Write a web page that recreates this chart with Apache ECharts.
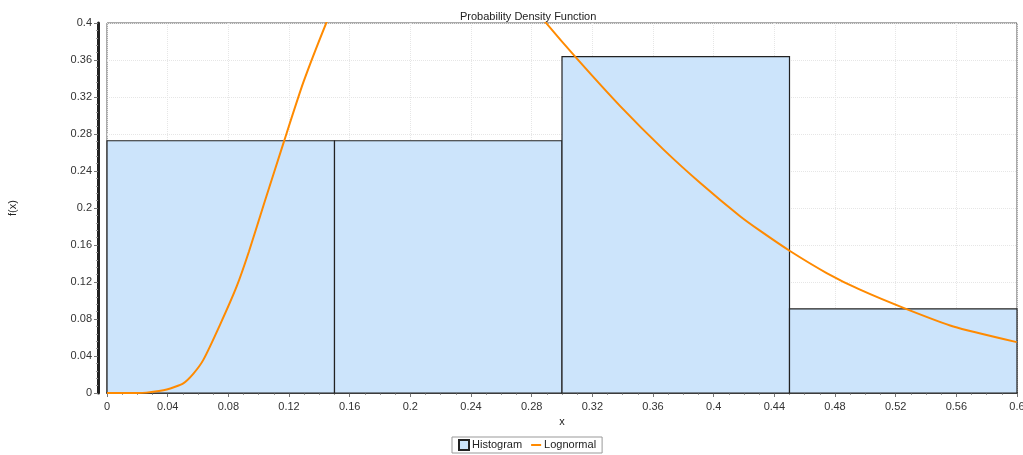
<!DOCTYPE html>
<html>
<head>
<meta charset="utf-8">
<script src="https://cdn.jsdelivr.net/npm/echarts@6/dist/echarts.min.js"></script>
<style>html,body{margin:0;padding:0;background:#fff}#c{width:1023px;height:455px}</style>
</head>
<body>
<div id="c"></div>
<script>
// Histogram bins
var binStart = [0.0, 0.15, 0.30, 0.45];
var binEnd   = [0.15, 0.30, 0.45, 0.60];
var binDensity = [0.2727, 0.2727, 0.3636, 0.0909];

// Lognormal curve (middle part above 0.4 is off-chart estimate)
var curveX = [0.0, 0.02, 0.026, 0.0394, 0.0503, 0.057, 0.0635, 0.0745, 0.0855, 0.0936, 0.104, 0.1167, 0.1295, 0.1448,
              0.16, 0.18, 0.2, 0.22, 0.24, 0.26, 0.28,
              0.2888, 0.3097, 0.3382, 0.3668, 0.391, 0.4174, 0.4305, 0.4503, 0.4745, 0.4965, 0.5272, 0.558, 0.5998];
var curveY = [0.0, 0.0, 0.0004, 0.0038, 0.0105, 0.021, 0.0358, 0.0737, 0.1152, 0.153, 0.207, 0.272, 0.336, 0.401,
              0.46, 0.50, 0.52, 0.52, 0.50, 0.465, 0.42,
              0.4014, 0.3617, 0.3104, 0.2634, 0.2273, 0.1911, 0.1755, 0.1535, 0.1297, 0.1117, 0.0907, 0.0719, 0.055];

var seriesNames = ['Histogram', 'Lognormal'];
var titleText = 'Probability Density Function';

var histData = binStart.map(function (s, i) { return [s, binEnd[i], binDensity[i]]; });
var lineData = curveX.map(function (x, i) { return [x, curveY[i]]; });

var font = 'Liberation Sans, Arial, sans-serif';
var chart = echarts.init(document.getElementById('c'), null, {renderer: 'canvas'});
chart.setOption({
  animation: false,
  backgroundColor: '#fff',
  title: {
    text: titleText, left: 455, top: 6,
    textStyle: {fontFamily: font, fontSize: 11, fontWeight: 'normal', color: '#222'}
  },
  legend: {
    left: 452, top: 437,
    data: [
      {name: seriesNames[0], icon: 'rect'},
      {name: seriesNames[1], icon: 'line',
       itemStyle: {color: '#ff8a00', borderColor: '#ff8a00', borderWidth: 2}}
    ],
    itemWidth: 10, itemHeight: 10, itemGap: 8,
    padding: [2, 6, 2, 6],
    borderColor: '#999', borderWidth: 1, borderRadius: 0,
    textStyle: {fontFamily: font, fontSize: 11, color: '#222', padding: [0, 0, 0, -2]}
  },
  grid: {
    left: 107, right: 6, top: 23, bottom: 62,
    outerBoundsMode: 'none', containLabel: false,
    show: true, borderColor: '#555', borderWidth: 1, backgroundColor: 'transparent'
  },
  xAxis: {
    type: 'value', min: 0, max: 0.6, interval: 0.04,
    name: 'x', nameLocation: 'middle', nameGap: 22,
    nameTextStyle: {fontFamily: font, fontSize: 11, color: '#222'},
    axisLine: {show: true, onZero: false, lineStyle: {color: '#555', width: 2}},
    axisTick: {show: true, length: 4, lineStyle: {color: '#777'}},
    minorTick: {show: true, splitNumber: 4, length: 2, lineStyle: {color: '#999'}},
    axisLabel: {fontFamily: font, fontSize: 11, color: '#333', margin: 8,
      formatter: function (v) { return +v.toFixed(2) + ''; }},
    splitLine: {show: true, lineStyle: {color: '#e6e6e6', type: 'dotted'}}
  },
  yAxis: {
    type: 'value', min: 0, max: 0.4, interval: 0.04,
    offset: 9,
    name: 'f(x)', nameLocation: 'middle', nameGap: 80,
    nameTextStyle: {fontFamily: font, fontSize: 11, color: '#222'},
    axisLine: {show: true, onZero: false, lineStyle: {color: '#222', width: 3}},
    axisTick: {show: true, length: 4, lineStyle: {color: '#777'}},
    minorTick: {show: true, splitNumber: 5, length: 2, lineStyle: {color: '#999'}},
    axisLabel: {fontFamily: font, fontSize: 11, color: '#333', margin: 6,
      formatter: function (v) { return +v.toFixed(2) + ''; }},
    splitLine: {show: true, lineStyle: {color: '#e6e6e6', type: 'dotted'}}
  },
  series: [
    {
      name: seriesNames[0],
      type: 'custom',
      data: histData,
      encode: {x: [0, 1], y: 2},
      itemStyle: {color: '#cce4fb', borderColor: '#222', borderWidth: 1},
      renderItem: function (params, api) {
        var p0 = api.coord([api.value(0), 0]);
        var p1 = api.coord([api.value(1), api.value(2)]);
        return {
          type: 'rect',
          shape: {x: p0[0], y: p1[1], width: p1[0] - p0[0], height: p0[1] - p1[1]},
          style: {fill: '#cce4fb', stroke: '#222', lineWidth: 1.2}
        };
      },
      z: 1
    },
    {
      name: seriesNames[1],
      type: 'line',
      data: lineData,
      smooth: 0.2,
      clip: true,
      showSymbol: false,
      symbol: 'none',
      lineStyle: {color: '#ff8a00', width: 2},
      itemStyle: {color: '#ff8a00'},
      z: 3
    }
  ]
});
</script>
</body>
</html>
